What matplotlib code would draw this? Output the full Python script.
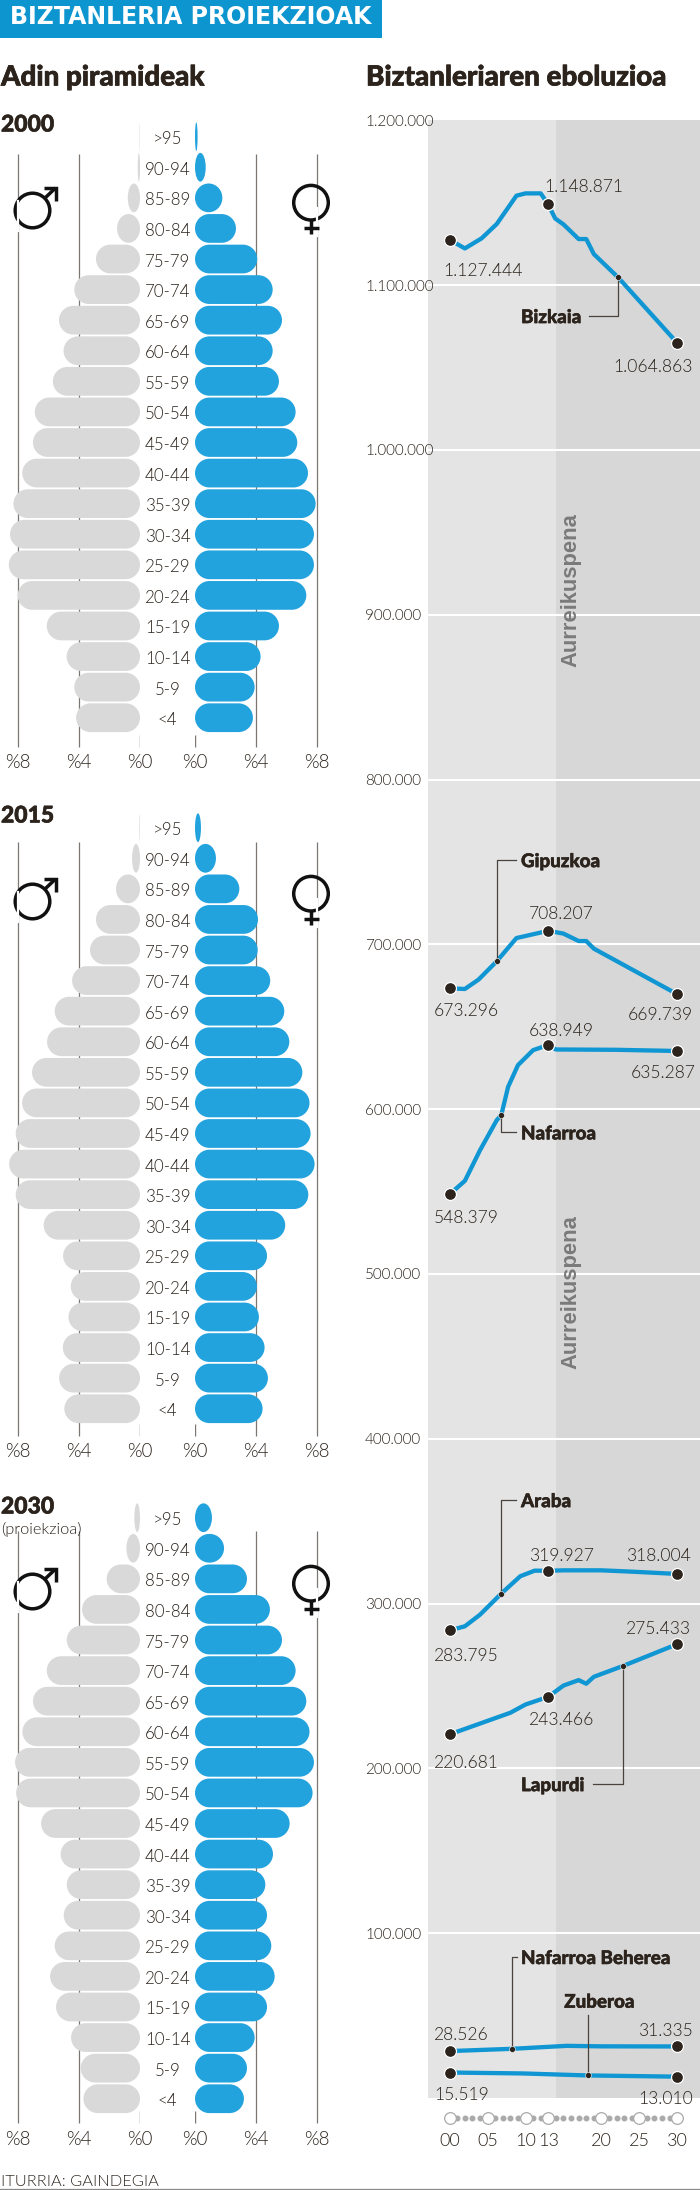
import numpy as np
import matplotlib
matplotlib.use('Agg')
from matplotlib import pyplot as plt
from matplotlib import font_manager as fm
from matplotlib import patheffects as pe
from matplotlib.patches import PathPatch, Circle, Rectangle
from matplotlib.path import Path

plt.rcParams['font.family'] = ['Lato', 'DejaVu Sans']

ages = ['>95', '90-94', '85-89', '80-84', '75-79', '70-74', '65-69', '60-64', '55-59', '50-54',
        '45-49', '40-44', '35-39', '30-34', '25-29', '20-24', '15-19', '10-14', '5-9', '<4']

men_2000 = [0.03, 0.15, 0.8, 1.5, 2.88, 4.3, 5.3, 5.0, 5.7, 6.88, 7.0, 7.7, 8.28, 8.5, 8.58, 8.0, 6.1, 4.8, 4.3, 4.18]
women_2000 = [0.17, 0.7, 1.79, 2.68, 4.07, 5.08, 5.69, 5.08, 5.49, 6.58, 6.69, 7.39, 7.89, 7.78, 7.78, 7.28, 5.49, 4.29, 3.9, 3.79]
men_2015 = [0.04, 0.52, 1.57, 2.88, 3.27, 4.44, 5.58, 6.08, 7.06, 7.71, 8.13, 8.56, 8.13, 6.3, 5.03, 4.53, 4.68, 5.05, 5.29, 4.95]
women_2015 = [0.39, 1.37, 2.9, 4.12, 4.1, 4.92, 5.84, 6.17, 7.02, 7.49, 7.56, 7.82, 7.41, 5.9, 4.71, 4.05, 4.18, 4.55, 4.77, 4.42]
men_2030 = [0.37, 0.89, 2.18, 3.79, 4.79, 6.1, 7.0, 7.69, 8.17, 8.1, 6.47, 5.19, 4.79, 4.99, 5.58, 5.88, 5.49, 4.51, 3.88, 3.7]
women_2030 = [1.11, 1.9, 3.4, 4.9, 5.69, 6.58, 7.28, 7.49, 7.78, 7.69, 6.19, 5.1, 4.6, 4.71, 4.99, 5.21, 4.71, 3.9, 3.4, 3.2]

bizkaia_years = [2000, 2002, 2004.2, 2006.2, 2008.8, 2010, 2012, 2013, 2013.9, 2015, 2017, 2018, 2019, 2022.2, 2030]
bizkaia = [1127444, 1122200, 1128300, 1137000, 1154200, 1155600, 1155600, 1148871, 1140400, 1136800, 1127900, 1127900, 1118800, 1104650, 1064863]
gipuzkoa_years = [2000, 2002, 2003.8, 2006.2, 2008.8, 2013, 2015, 2017, 2018, 2019, 2030]
gipuzkoa = [673296, 672900, 678600, 689700, 703800, 708207, 706500, 702000, 702000, 697400, 669739]
nafarroa_years = [2000, 2002, 2004, 2006.2, 2006.8, 2007.7, 2009, 2011, 2013, 2014, 2022, 2030]
nafarroa = [548379, 556500, 575100, 593300, 596400, 613500, 626700, 635800, 638949, 636200, 636000, 635287]
araba_years = [2000, 2002, 2004, 2006.8, 2009.3, 2011.2, 2013, 2015, 2020, 2024, 2030]
araba = [283795, 286250, 293300, 306100, 316600, 320000, 319927, 320200, 320200, 319400, 318004]
lapurdi_years = [2000, 2008, 2010, 2013, 2015, 2017, 2018, 2019, 2022.8, 2030]
lapurdi = [220681, 233800, 238800, 243466, 250300, 253600, 251400, 255600, 262100, 275433]
beherea_years = [2000, 2008.2, 2015.4, 2020, 2030]
beherea = [28526, 29900, 31700, 31400, 31335]
zuberoa_years = [2000, 2009.7, 2018.2, 2030]
zuberoa = [15519, 14950, 13740, 13010]

axis_years = [2000, 2005, 2010, 2013, 2020, 2025, 2030]
axis_labels = ['00', '05', '10', '13', '20', '25', '30']
y_values = [1200000, 1100000, 1000000, 900000, 800000, 700000, 600000, 500000, 400000, 300000, 200000, 100000]

BLUE = '#23a3de'
LINE = '#1096d3'
GREY = '#d9d9d9'
DARK = '#2b231c'
GRID = '#7d7771'

fig = plt.figure(figsize=(7, 21.9), dpi=100)


def lato(tag, size):
    # pick the cut by file, the weight names are not reliable here
    for f in fm.fontManager.ttflist:
        if f.fname.endswith('Lato-' + tag + '.ttf'):
            return fm.FontProperties(fname=f.fname, size=size)
    return fm.FontProperties(family='Lato', weight='black' if tag == 'Black' else 'normal', size=size)


def px_axes(x0, y0, x1, y1):
    return fig.add_axes([x0 / 700, 1 - y1 / 2190, (x1 - x0) / 700, (y1 - y0) / 2190])


def pill(val, row, half=0.47, r=0.94):
    # rounded bar, turns into an ellipse when it is too short
    rx = min(val / 2, r)
    k = 0.5523
    verts = [(rx, row - half), (val - rx, row - half),
             (val - rx + k * rx, row - half), (val, row - k * half), (val, row),
             (val, row + k * half), (val - rx + k * rx, row + half), (val - rx, row + half),
             (rx, row + half),
             (rx - k * rx, row + half), (0, row + k * half), (0, row),
             (0, row - k * half), (rx - k * rx, row - half), (rx, row - half)]
    codes = [Path.MOVETO, Path.LINETO] + [Path.CURVE4] * 6 + [Path.LINETO] + [Path.CURVE4] * 6
    return Path(verts, codes)


PITCH = 30.58
MAXX = 140 / 15.29

# overlay in pixels for texts and decoration
ax0 = px_axes(0, 0, 700, 2190)
ax0.set_xlim(0, 700)
ax0.set_ylim(2190, 0)
ax0.axis('off')
ax0.set_zorder(10)


def put(x, y, s, size, cut='Regular', color=DARK, ha='left', **kw):
    return ax0.text(x, y, s, fontproperties=lato(cut, size), color=color, ha=ha, va='center_baseline', **kw)


def heavy(t, lw=0.5):
    t.set_path_effects([pe.withStroke(linewidth=lw, foreground=t.get_color())])
    return t


def male(y0):
    cx, cy = 32.5, y0 + 73.8
    ax0.plot([17.67, 17.67], [cy - 10, cy + 20], color='white', lw=1.6)
    ax0.add_patch(Circle((cx, cy), 17.3, fc='white', ec='#111111', lw=2.5))
    ax0.plot([cx + 12.5, cx + 23], [cy - 12.5, cy - 22.5], color='#111111', lw=2.5, solid_capstyle='butt')
    ax0.plot([cx + 11, cx + 23.5, cx + 23.5], [cy - 23, cy - 23, cy - 10], color='#111111', lw=2.5,
             solid_joinstyle='miter', solid_capstyle='butt')


def female(y0):
    cx, cy = 311, y0 + 66
    ax0.plot([317.3, 317.3], [cy + 5, cy + 33], color='white', lw=1.6)
    ax0.add_patch(Circle((cx, cy), 17.3, fc='none', ec='#111111', lw=2.5))
    ax0.plot([cx, cx], [cy + 17, cy + 31.5], color='#111111', lw=2.5, solid_capstyle='butt')
    ax0.plot([cx - 7.3, cx + 7.5], [cy + 25, cy + 25], color='#111111', lw=2.5, solid_capstyle='butt')


pyramids = [('2000', men_2000, women_2000, 136.7, 0.566, 19.95),
            ('2015', men_2015, women_2015, 827.7, 0.47, 19.88),
            ('2030', men_2030, women_2030, 1517.7, 0.43, 19.8)]

for year, men, women, y0, top, bottom in pyramids:
    for vals, color, rect in ((men, GREY, (0, 140)), (women, BLUE, (195, 335))):
        ax = px_axes(rect[0], y0 - PITCH / 2, rect[1], y0 + 20.5 * PITCH)
        ax.axis('off')
        ax.vlines([4, 8], top, bottom, color=GRID, lw=0.9, zorder=1)
        ax.vlines(0, bottom - 0.39, bottom, color=GRID, lw=1.0, zorder=1)
        for i, v in enumerate(vals):
            ax.add_patch(PathPatch(pill(v, i), fc=color, ec='none', zorder=2, clip_on=False))
        if color == GREY:
            ax.set_xlim(MAXX, 0)
        else:
            ax.set_xlim(0, MAXX)
        ax.set_ylim(20.5, -0.5)
        for t in (0, 4, 8):
            ax.text(t, bottom + 0.47, '%' + str(t), ha='center', va='center_baseline',
                    fontproperties=lato('Light', 13.5), color=DARK, clip_on=False)
    for i, a in enumerate(ages):
        put(167.7, y0 + i * PITCH + 1, a, 12.2, 'Light', ha='center')
    male(y0)
    female(y0)

heavy(put(1, 123, '2000', 16.5, 'Black'), 0.4)
heavy(put(1, 814, '2015', 16.5, 'Black'), 0.4)
heavy(put(1, 1505, '2030', 16.5, 'Black'), 0.4)
put(1, 1528, '(proiekzioa)', 11.8, 'Light')

# header
ax0.add_patch(Rectangle((0, 0), 382, 38, fc='#0d95d0', ec='none'))
ax0.text(10, 17.5, 'BIZTANLERIA PROIEKZIOAK', fontsize=17, fontweight='bold', family='DejaVu Sans',
         color='white', ha='left', va='center')
heavy(put(1, 75, 'Adin piramideak', 20, 'Black'), 0.5)
heavy(put(366, 75, 'Biztanleriaren eboluzioa', 20, 'Black'), 0.5)

# evolution chart
axe = px_axes(427.7, 120.2, 700, 2098.1)
axe.set_xlim(1997.1, 2033)
axe.set_ylim(0, 1200000)
axe.set_facecolor('#e4e4e4')
for s in axe.spines.values():
    s.set_visible(False)
axe.set_xticks([])
axe.set_yticks([])
axe.axvspan(2014, 2033, color='#d7d7d7', lw=0, zorder=0)
axe.hlines(y_values[1:], 1997.1, 2033, color='white', lw=1.5, zorder=1)
for v in y_values:
    axe.text(-0.2303, v, f'{v:,}'.replace(',', '.'), transform=axe.get_yaxis_transform(),
             fontproperties=lato('Light', 11), color=DARK, ha='left', va='center_baseline', clip_on=False)

for txt_y in (590, 1292.5):
    ax0.text(571, txt_y, 'Aurreikuspena', fontsize=15.8, fontweight='bold', family='Liberation Sans',
             color='#7a7a7a', ha='center', va='center', rotation=90)

series = [(bizkaia_years, bizkaia), (gipuzkoa_years, gipuzkoa), (nafarroa_years, nafarroa),
          (araba_years, araba), (lapurdi_years, lapurdi), (beherea_years, beherea), (zuberoa_years, zuberoa)]
for yrs, vals in series:
    yrs = np.array(yrs)
    vals = np.array(vals)
    axe.plot(yrs, vals, color=LINE, lw=3.1, zorder=3, solid_joinstyle='round')
    m = np.isin(yrs, [2000, 2013, 2030])
    axe.plot(yrs[m], vals[m], 'o', ms=8.6, mfc=DARK, mec='white', mew=0.9, zorder=5)

# name, year, value, elbow value, end year, text year, text value
callouts = [('Bizkaia', 2022.2, 1104650, 1081170, 2018.3, 2009.4, 1081170),
            ('Gipuzkoa', 2006.2, 689700, 751100, 2008.7, 2009.4, 751100),
            ('Nafarroa', 2006.8, 596400, 585900, 2008.7, 2009.4, 585900),
            ('Araba', 2006.8, 306100, 362800, 2008.7, 2009.4, 362800),
            ('Lapurdi', 2022.8, 262100, 190500, 2018.9, 2009.4, 190500),
            ('Nafarroa Beherea', 2008.2, 29900, 85600, 2008.9, 2009.4, 85600),
            ('Zuberoa', 2018.2, 13740, 50400, 2018.2, 2015.1, 59100)]
for name, yr, v, elbow, end, tx, ty in callouts:
    axe.plot([yr, yr, end], [v, elbow, elbow], color='#4a433d', lw=0.9, zorder=4)
    axe.plot([yr], [v], 'o', ms=4.3, mfc=DARK, mec='white', mew=0.4, zorder=6)
    t = axe.text(tx, ty, name, fontproperties=lato('Black', 13.5), color=DARK, ha='left', va='center_baseline')
    heavy(t, 0.35)

# value labels, in the same order as the dots of each series
value_pos = [(bizkaia_years, bizkaia, [(443, 269), (544, 186), (613, 366)]),
             (gipuzkoa_years, gipuzkoa, [(434, 1009), (529, 912.7), (627.3, 1013.3)]),
             (nafarroa_years, nafarroa, [(434, 1216.7), (529, 1030), (630.7, 1071.7)]),
             (araba_years, araba, [(434, 1654.3), (529, 1554.3), (625.7, 1554.3)]),
             (lapurdi_years, lapurdi, [(434, 1761), (529, 1718.3), (625.7, 1627.7)]),
             (beherea_years, beherea, [(434, 2033), (638.3, 2029)]),
             (zuberoa_years, zuberoa, [(434, 2093.3), (638.3, 2097.3)])]
for yrs, vals, pos in value_pos:
    shown = [v for y, v in zip(yrs, vals) if y in (2000, 2013, 2030)]
    for v, (x, y) in zip(shown, pos):
        put(x, y, f'{v:,}'.replace(',', '.'), 12.6, 'Light')

# year axis under the panel
all_years = np.arange(2000, 2031)
axe.plot(all_years, np.full(31, -12255), 'o', ms=3.3, color='#aaaaaa', clip_on=False, zorder=3)
axe.plot(axis_years, [-12255] * 7, 'o', ms=8.4, mfc='white', mec='#aaaaaa', mew=0.9, clip_on=False, zorder=4)
for yr, lab in zip(axis_years, axis_labels):
    axe.text(yr, -25400, lab, fontproperties=lato('Light', 13), color=DARK, ha='center', va='center_baseline', clip_on=False)

# footer
put(1, 2180.7, 'ITURRIA: GAINDEGIA', 11.8, 'Light')
ax0.plot([0, 700], [2189.3, 2189.3], color='#888888', lw=0.9)

fig.savefig('out.png', dpi=100)
